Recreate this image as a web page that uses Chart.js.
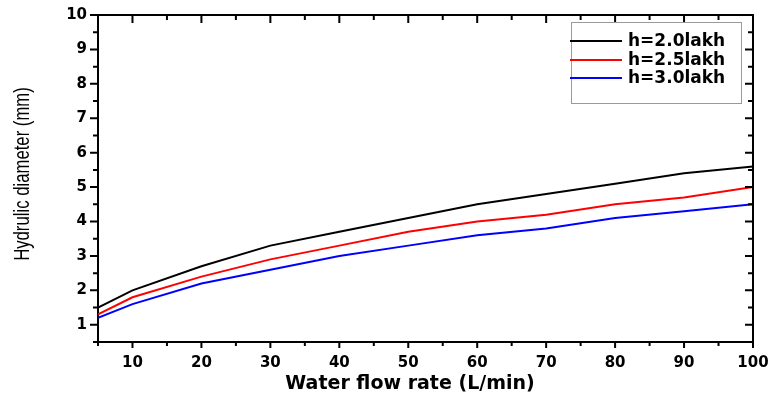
<!DOCTYPE html>
<html>
<head>
<meta charset="utf-8">
<script src="https://cdn.jsdelivr.net/npm/chart.js@4"></script>
<style>
    html, body { margin: 0; padding: 0; background: #ffffff; }
    #wrap { width: 771px; height: 400px; }
</style>
</head>
<body>
<div id="wrap"><canvas id="diaChart"></canvas></div>
<script>
// Chart data
const flowRates = [5, 10, 20, 30, 40, 50, 60, 70, 80, 90, 100];
const diaH20 = [1.5, 2.0, 2.7, 3.3, 3.7, 4.1, 4.5, 4.8, 5.1, 5.4, 5.6];
const diaH25 = [1.3, 1.8, 2.4, 2.9, 3.3, 3.7, 4.0, 4.2, 4.5, 4.7, 5.0];
const diaH30 = [1.2, 1.6, 2.2, 2.6, 3.0, 3.3, 3.6, 3.8, 4.1, 4.3, 4.5];
const seriesLabels = ['h=2.0lakh', 'h=2.5lakh', 'h=3.0lakh'];
const xTickLabels = [10, 20, 30, 40, 50, 60, 70, 80, 90, 100];
const yTickLabels = [1, 2, 3, 4, 5, 6, 7, 8, 9, 10];

const boldFont = 'DejaVu Sans';

function toPoints(values) {
    return flowRates.map((x, i) => ({ x: x, y: values[i] }));
}

function makeSet(label, values, color) {
    return {
        label: label,
        data: toPoints(values),
        borderColor: color,
        backgroundColor: color,
        borderWidth: 2,
        pointRadius: 0,
        tension: 0,
        fill: false
    };
}

// Frame, inward/outward ticks, axis titles and the boxed legend
const framePlugin = {
    id: 'frame',
    afterDraw(chart) {
        const ctx = chart.ctx;
        const area = chart.chartArea;
        const xs = chart.scales.x;
        const ys = chart.scales.y;
        ctx.save();
        ctx.strokeStyle = '#000';
        ctx.lineWidth = 2;

        // top and right frame lines
        ctx.beginPath();
        ctx.moveTo(area.left - 1, area.top);
        ctx.lineTo(area.right, area.top);
        ctx.lineTo(area.right, area.bottom + 1);
        ctx.stroke();

        ctx.beginPath();
        xs.ticks.forEach(t => {
            const px = xs.getPixelForValue(t.value);
            const major = t.value % 10 === 0;
            const lenOut = major ? 6 : 4;
            const lenIn = major ? 8 : 5;
            ctx.moveTo(px, area.bottom);
            ctx.lineTo(px, area.bottom + lenOut);
            ctx.moveTo(px, area.top);
            ctx.lineTo(px, area.top + lenIn);
        });
        ys.ticks.forEach(t => {
            const py = ys.getPixelForValue(t.value);
            const major = Number.isInteger(t.value);
            const len = major ? 8 : 5;
            ctx.moveTo(area.left, py);
            ctx.lineTo(area.left - len, py);
            ctx.moveTo(area.right, py);
            ctx.lineTo(area.right - len, py);
        });
        ctx.stroke();

        // axis titles
        ctx.fillStyle = '#000';
        ctx.textAlign = 'center';
        ctx.textBaseline = 'middle';
        ctx.font = 'bold 19px "' + boldFont + '"';
        ctx.fillText('Water flow rate (L/min)', 410, 384);

        // narrow y title: Liberation Sans squeezed along the text direction
        ctx.save();
        ctx.translate(23, 174);
        ctx.rotate(-Math.PI / 2);
        ctx.scale(0.76, 1);
        ctx.font = '22px "Liberation Sans", sans-serif';
        ctx.fillText('Hydrulic diameter (mm)', 0, 0);
        ctx.restore();

        // legend box
        ctx.fillStyle = '#fff';
        ctx.fillRect(571, 22, 170, 81);
        ctx.strokeStyle = '#9a9a9a';
        ctx.lineWidth = 1;
        ctx.strokeRect(571.5, 22.5, 170, 81);

        const rows = [41, 60, 78];
        ctx.textAlign = 'left';
        ctx.font = 'bold 17px "' + boldFont + '"';
        chart.data.datasets.forEach((ds, i) => {
            ctx.strokeStyle = ds.borderColor;
            ctx.lineWidth = 2;
            ctx.beginPath();
            ctx.moveTo(570, rows[i]);
            ctx.lineTo(622, rows[i]);
            ctx.stroke();
            ctx.fillStyle = '#000';
            ctx.fillText(ds.label, 628, rows[i] + 1);
        });
        ctx.restore();
    }
};

const chartConfig = {
    type: 'line',
    data: {
        datasets: [
            makeSet(seriesLabels[0], diaH20, '#000000'),
            makeSet(seriesLabels[1], diaH25, '#ff0000'),
            makeSet(seriesLabels[2], diaH30, '#0000ff')
        ]
    },
    options: {
        responsive: true,
        maintainAspectRatio: false,
        animation: false,
        layout: {
            padding: { top: 15, right: 18, left: 0, bottom: 0 }
        },
        plugins: {
            legend: { display: false },
            tooltip: { enabled: false }
        },
        scales: {
            x: {
                type: 'linear',
                min: 5,
                max: 100,
                afterFit: s => {
                    s.height = 58;
                    s.paddingLeft = 0;
                    s.paddingRight = 0;
                },
                grid: { display: true, drawOnChartArea: false, drawTicks: false },
                border: { display: true, color: '#000', width: 2 },
                ticks: {
                    stepSize: 5,
                    autoSkip: false,
                    maxRotation: 0,
                    padding: 12,
                    color: '#000',
                    font: { family: boldFont, size: 15, weight: 'bold' },
                    callback: v => xTickLabels.includes(v) ? String(v) : ''
                }
            },
            y: {
                min: 0.5,
                max: 10,
                afterFit: s => {
                    s.width = 98;
                    s.paddingTop = 0;
                    s.paddingBottom = 0;
                },
                grid: { display: true, drawOnChartArea: false, drawTicks: false },
                border: { display: true, color: '#000', width: 2 },
                ticks: {
                    stepSize: 0.5,
                    autoSkip: false,
                    padding: 11,
                    color: '#000',
                    font: { family: boldFont, size: 15, weight: 'bold' },
                    callback: v => yTickLabels.includes(v) ? String(v) : ''
                }
            }
        }
    },
    plugins: [framePlugin]
};

const ctx = document.getElementById('diaChart').getContext('2d');
const chart = new Chart(ctx, chartConfig);
</script>
</body>
</html>
